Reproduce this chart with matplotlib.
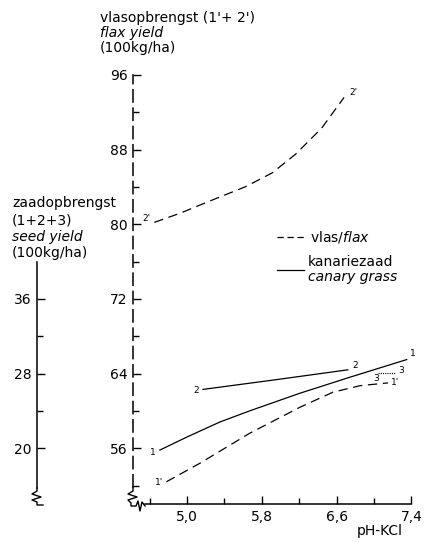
import numpy as np
import matplotlib
matplotlib.use("Agg")
from matplotlib import pyplot as plt
from matplotlib.lines import Line2D

# flax yield (100 kg/ha), curves 1' and 2'
flax1_ph = [4.78, 5.14, 5.67, 6.21, 6.56, 6.85, 7.15]
flax1_y = [52.4, 54.4, 57.6, 60.4, 62.0, 62.7, 63.0]
flax2_ph = [4.65, 4.93, 5.27, 5.62, 5.91, 6.16, 6.44, 6.68]
flax2_y = [80.2, 81.2, 82.6, 84.0, 85.5, 87.5, 90.3, 93.6]

# canary grass seed yield (100 kg/ha), curves 1, 2, 3
seed1_ph = [4.71, 5.0, 5.35, 5.67, 6.21, 6.74, 7.35]
seed1_y = [19.8, 21.2, 22.8, 24.0, 25.9, 27.6, 29.5]
seed2_ph = [5.17, 5.92, 6.72]
seed2_y = [26.3, 27.3, 28.4]
seed3_ph = [7.04, 7.22]
seed3_y = [28.1, 28.1]

x_ticks = [5.0, 5.8, 6.6, 7.4]
x_labels = ["5,0", "5,8", "6,6", "7,4"]
x_minor = [4.6, 5.4, 6.2, 7.0]
flax_ticks = [56, 64, 72, 80, 88, 96]
flax_minor = [52, 60, 68, 76, 84, 92]
seed_ticks = [20, 28, 36]
seed_minor = [24, 32]
SEED_OFFSET = 36  # seed axis value + 36 = flax axis value

W, H = 425, 543
plt.rcParams['font.family'] = ['DejaVu Sans']
plt.rcParams['mathtext.fontset'] = 'dejavusans'
fig = plt.figure(figsize=(W / 100, H / 100), dpi=100)
ax = fig.add_axes([0, 0, 1, 1])
ax.patch.set_visible(False)

# pixel scale
PX_PH = 93.5    # px per pH unit, pH 5.0 at x=187
PX_Y = 9.33     # px per yield unit, 96 at y=75
ax.set_xlim(5.0 - 187 / PX_PH, 5.0 + (W - 187) / PX_PH)
ax.set_ylim(96 - (H - 75) / PX_Y, 96 + 75 / PX_Y)


def px(x, y):
    return 5.0 + (x - 187) / PX_PH, 96 - (y - 75) / PX_Y


def fpos(x, y):
    return x / W, 1 - y / H


lw = 0.9
dash = (0, (7.5, 4.5))
ax.plot(flax1_ph, flax1_y, color='black', lw=lw, ls=dash)
ax.plot(flax2_ph, flax2_y, color='black', lw=lw, ls=dash)
ax.plot(seed1_ph, np.array(seed1_y) + SEED_OFFSET, color='black', lw=lw)
ax.plot(seed2_ph, np.array(seed2_y) + SEED_OFFSET, color='black', lw=lw)
ax.plot(seed3_ph, np.array(seed3_y) + SEED_OFFSET, color='black', lw=0.8, ls=(0, (1, 1)))


def lab(txt, xs, ys, i, dx, dy):
    ax.annotate(txt, (xs[i], ys[i]), xytext=(dx, dy), textcoords='offset pixels',
                ha='center', va='center', fontsize=6.5)


lab("2'", flax2_ph, flax2_y, 0, -8, 4)
lab("2'", flax2_ph, flax2_y, -1, 9, 5)
lab("1'", flax1_ph, flax1_y, 0, -7, -1)
lab("1'", flax1_ph, flax1_y, -1, 7, 0)
s1 = np.array(seed1_y) + SEED_OFFSET
s2 = np.array(seed2_y) + SEED_OFFSET
s3 = np.array(seed3_y) + SEED_OFFSET
lab("1", seed1_ph, s1, 0, -7, -2)
lab("1", seed1_ph, s1, -1, 6, 6)
lab("2", seed2_ph, s2, 0, -7, -1)
lab("2", seed2_ph, s2, -1, 7, 4)
lab("3", seed3_ph, s3, 0, -2, -6)
lab("3", seed3_ph, s3, -1, 7, 2)

# axes
x0 = px(133, 0)[0]
for side in ['top', 'right']:
    ax.spines[side].set_visible(False)
ax.spines['left'].set_position(('data', x0))
ax.spines['left'].set_bounds(px(0, 487)[1], 96)
ax.spines['left'].set_linestyle((0, (8, 4)))
ax.spines['left'].set_linewidth(1.1)
ax.spines['bottom'].set_position(('data', 50))
ax.spines['bottom'].set_bounds(px(145, 0)[0], 7.4)
ax.spines['bottom'].set_linewidth(1.1)

ax.set_xticks(x_ticks, x_labels)
ax.set_xticks(x_minor, minor=True)
ax.set_yticks(flax_ticks)
ax.set_yticks(flax_minor, minor=True)
ax.tick_params(which='both', direction='in', width=1, labelsize=10, pad=4)
ax.tick_params(which='major', length=5.5)
ax.tick_params(which='minor', length=4.5)

# break marks
brk = [(133, 487), (133, 491), (128, 494), (137, 497), (128, 500), (131, 503),
       (131, 506), (136, 506), (138, 501), (140, 511), (142, 502), (145, 506)]
bx, by = zip(*[px(*p) for p in brk])
ax.plot(bx, by, color='black', lw=1.0, clip_on=False)

# seed axis
sec = ax.secondary_yaxis(37 / W, functions=(lambda f: f - SEED_OFFSET, lambda s: s + SEED_OFFSET))
sec.spines['left'].set_bounds(px(0, 488)[1] - SEED_OFFSET, 40)
sec.spines['left'].set_linewidth(1.1)
sec.set_yticks(seed_ticks)
sec.set_yticks(seed_minor, minor=True)
sec.tick_params(which='both', direction='in', width=1, labelsize=10, pad=4)
sec.tick_params(which='major', length=5.5)
sec.tick_params(which='minor', length=4.5)
brk2 = [(37, 488), (37, 491), (32, 494), (41, 497), (32, 500), (37, 502), (37, 505), (43, 505)]
bx, by = zip(*[px(*p) for p in brk2])
ax.plot(bx, by, color='black', lw=1.0, clip_on=False)

# axis titles
fs = 10
fig.text(*fpos(100, 18), "vlasopbrengst (1'+ 2')", fontsize=fs, va='center')
fig.text(*fpos(100, 33), "flax yield", fontsize=fs, va='center', style='italic')
fig.text(*fpos(100, 48), "(100kg/ha)", fontsize=fs, va='center')
fig.text(*fpos(12, 203), "zaadopbrengst", fontsize=fs, va='center')
fig.text(*fpos(12, 220), "(1+2+3)", fontsize=fs, va='center')
fig.text(*fpos(12, 237), "seed yield", fontsize=fs, va='center', style='italic')
fig.text(*fpos(12, 253), "(100kg/ha)", fontsize=fs, va='center')
fig.text(*fpos(357, 531), "pH-KCl", fontsize=fs, va='center')

# legend
fig.add_artist(Line2D([277 / W, 307 / W], [1 - 237 / H] * 2, color='black', lw=lw, ls=(0, (5, 3))))
fig.text(*fpos(310, 237), r"vlas/$\mathit{flax}$", fontsize=fs, va='center')
fig.add_artist(Line2D([277 / W, 304 / W], [1 - 270 / H] * 2, color='black', lw=lw))
fig.text(*fpos(308, 262), "kanariezaad", fontsize=fs, va='center')
fig.text(*fpos(308, 277), "canary grass", fontsize=fs, va='center', style='italic')

fig.savefig("out.png", dpi=100)
